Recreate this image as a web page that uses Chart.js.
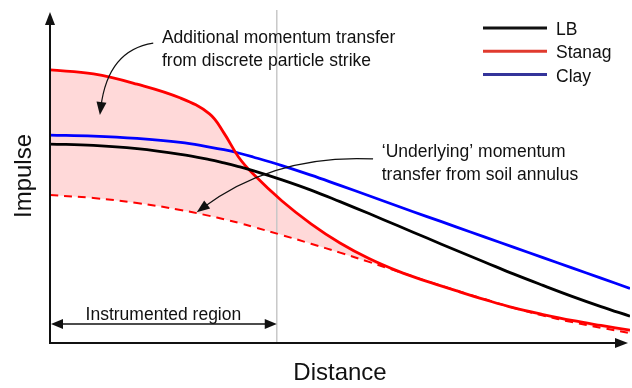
<!DOCTYPE html>
<html>
<head>
<meta charset="utf-8">
<script src="https://cdn.jsdelivr.net/npm/chart.js@4/dist/chart.umd.min.js"></script>
<style>
  body { margin: 0; background: #fff; }
  #impulseChart { display: block; }
</style>
</head>
<body>
<canvas id="impulseChart" width="632" height="388"></canvas>
<script>
// distance along the plate (arbitrary units) and impulse for each soil type
const distance = [0, 0.75, 1.5, 2.25, 2.75, 3.0, 3.25, 3.5, 4, 4.5, 5, 5.5, 6, 6.5, 7, 7.5, 8, 8.5, 9, 9.5, 10];
const lbImpulse = [6.01, 5.97, 5.87, 5.70, 5.54, 5.44, 5.33, 5.21, 4.93, 4.62, 4.27, 3.91, 3.54, 3.17, 2.80, 2.44, 2.08, 1.74, 1.41, 1.10, 0.81];
const stanagImpulse = [8.25, 8.13, 7.82, 7.40, 6.92, 6.34, 5.62, 5.11, 4.29, 3.60, 3.02, 2.55, 2.17, 1.86, 1.58, 1.31, 1.06, 0.86, 0.68, 0.53, 0.39];
const clayImpulse = [6.28, 6.25, 6.18, 6.06, 5.92, 5.84, 5.74, 5.62, 5.36, 5.07, 4.76, 4.45, 4.13, 3.82, 3.51, 3.20, 2.89, 2.58, 2.27, 1.96, 1.65];
const annulusImpulse = [4.47, 4.38, 4.23, 4.02, 3.84, 3.74, 3.63, 3.51, 3.26, 3.00, 2.73, 2.45, 2.16, 1.87, 1.59, 1.32, 1.06, 0.83, 0.63, 0.46, 0.30];

const seriesNames = ['LB', 'Stanag', 'Clay'];
const instrumentedEnd = 3.91;

const FONT = '"Liberation Sans", Arial, sans-serif';

function toPoints(values) {
    return distance.map((d, i) => ({ x: d, y: values[i] }));
}

function arrowHead(ctx, tipX, tipY, fromX, fromY, len, half) {
    const a = Math.atan2(tipY - fromY, tipX - fromX);
    ctx.beginPath();
    ctx.moveTo(tipX, tipY);
    ctx.lineTo(tipX - len * Math.cos(a) + half * Math.sin(a), tipY - len * Math.sin(a) - half * Math.cos(a));
    ctx.lineTo(tipX - len * Math.cos(a) - half * Math.sin(a), tipY - len * Math.sin(a) + half * Math.cos(a));
    ctx.closePath();
    ctx.fill();
}

// curved pointer given in data units: start, control, tip
function curvedArrow(ctx, xs, ys, p0, p1, p2) {
    const a = [xs.getPixelForValue(p0[0]), ys.getPixelForValue(p0[1])];
    const c = [xs.getPixelForValue(p1[0]), ys.getPixelForValue(p1[1])];
    const b = [xs.getPixelForValue(p2[0]), ys.getPixelForValue(p2[1])];
    const ux = b[0] - c[0], uy = b[1] - c[1];
    const ul = Math.hypot(ux, uy);
    const stopX = b[0] - ux / ul * 8, stopY = b[1] - uy / ul * 8;
    ctx.beginPath();
    ctx.moveTo(a[0], a[1]);
    ctx.quadraticCurveTo(c[0], c[1], stopX, stopY);
    ctx.stroke();
    arrowHead(ctx, b[0], b[1], c[0], c[1], 13, 5);
}

const sketchPlugin = {
    id: 'sketchPlugin',
    beforeDatasetsDraw(chart) {
        const { ctx, chartArea, scales: { x } } = chart;
        const px = x.getPixelForValue(instrumentedEnd);
        ctx.save();
        ctx.strokeStyle = '#c8c8c8';
        ctx.lineWidth = 1.5;
        ctx.beginPath();
        ctx.moveTo(px, chartArea.top - 2);
        ctx.lineTo(px, chartArea.bottom);
        ctx.stroke();
        ctx.restore();
    },
    afterDraw(chart) {
        const { ctx, chartArea, scales: { x, y } } = chart;
        const left = chartArea.left, bottom = chartArea.bottom;
        ctx.save();

        // axes with arrowheads
        ctx.strokeStyle = '#111';
        ctx.fillStyle = '#111';
        ctx.lineWidth = 2;
        ctx.beginPath();
        ctx.moveTo(left, chartArea.top + 6);
        ctx.lineTo(left, bottom);
        ctx.lineTo(chartArea.right - 8, bottom);
        ctx.stroke();
        arrowHead(ctx, left, chartArea.top, left, bottom, 13, 5);
        arrowHead(ctx, chartArea.right - 2, bottom, left, bottom, 13, 5);

        // axis titles
        ctx.font = '24px ' + FONT;
        ctx.textAlign = 'center';
        ctx.textBaseline = 'alphabetic';
        ctx.fillText('Distance', 340, 380);
        ctx.save();
        ctx.translate(31, 176);
        ctx.rotate(-Math.PI / 2);
        ctx.fillText('Impulse', 0, 0);
        ctx.restore();

        // instrumented region span
        const spanY = 324;
        const spanEnd = x.getPixelForValue(instrumentedEnd);
        ctx.lineWidth = 1.5;
        ctx.beginPath();
        ctx.moveTo(left + 8, spanY);
        ctx.lineTo(spanEnd - 8, spanY);
        ctx.stroke();
        arrowHead(ctx, left + 1, spanY, spanEnd, spanY, 12, 5);
        arrowHead(ctx, spanEnd, spanY, left, spanY, 12, 5);
        ctx.font = '17.5px ' + FONT;
        ctx.fillText('Instrumented region', (left + spanEnd) / 2, 320);

        // annotations
        ctx.textAlign = 'left';
        ctx.fillText('Additional momentum transfer', x.getPixelForValue(1.93), 43);
        ctx.fillText('from discrete particle strike', x.getPixelForValue(1.93), 66);
        ctx.fillText('\u2018Underlying\u2019 momentum', x.getPixelForValue(5.72), 157);
        ctx.fillText('transfer from soil annulus', x.getPixelForValue(5.72), 180);

        ctx.lineWidth = 1.2;
        curvedArrow(ctx, x, y, [1.78, 9.06], [1.0, 8.85], [0.86, 6.89]);
        curvedArrow(ctx, x, y, [5.57, 5.56], [3.88, 5.71], [2.53, 3.95]);

        // legend
        const legendColors = ['#111111', '#e03a2e', '#34349a'];
        seriesNames.forEach((name, i) => {
            const ly = 28 + i * 23.3;
            ctx.strokeStyle = legendColors[i];
            ctx.lineWidth = 3;
            ctx.beginPath();
            ctx.moveTo(483, ly);
            ctx.lineTo(547, ly);
            ctx.stroke();
            ctx.fillStyle = '#111';
            ctx.fillText(name, 556, ly + 7);
        });

        ctx.restore();
    }
};

new Chart(document.getElementById('impulseChart').getContext('2d'), {
    type: 'line',
    data: {
        datasets: [{
            label: seriesNames[0],
            data: toPoints(lbImpulse),
            borderColor: '#000000',
            borderWidth: 2.8,
            fill: false
        }, {
            label: seriesNames[1],
            data: toPoints(stanagImpulse),
            borderColor: '#ff0000',
            borderWidth: 2.8,
            backgroundColor: 'rgba(255, 0, 0, 0.15)',
            fill: 3
        }, {
            label: seriesNames[2],
            data: toPoints(clayImpulse),
            borderColor: '#0000ff',
            borderWidth: 2.8,
            fill: false
        }, {
            label: 'Soil annulus',
            data: toPoints(annulusImpulse),
            borderColor: '#ff0000',
            borderWidth: 2,
            borderDash: [8, 6],
            fill: false
        }]
    },
    options: {
        responsive: false,
        animation: false,
        layout: {
            padding: { left: 50, right: 2, top: 12, bottom: 45 }
        },
        elements: {
            point: { radius: 0 },
            line: { tension: 0.4 }
        },
        scales: {
            x: { type: 'linear', min: 0, max: 10, display: false },
            y: { min: 0, max: 10, display: false }
        },
        plugins: {
            legend: { display: false },
            tooltip: { enabled: false },
            filler: { drawTime: 'beforeDatasetsDraw' }
        }
    },
    plugins: [sketchPlugin]
});
</script>
</body>
</html>
